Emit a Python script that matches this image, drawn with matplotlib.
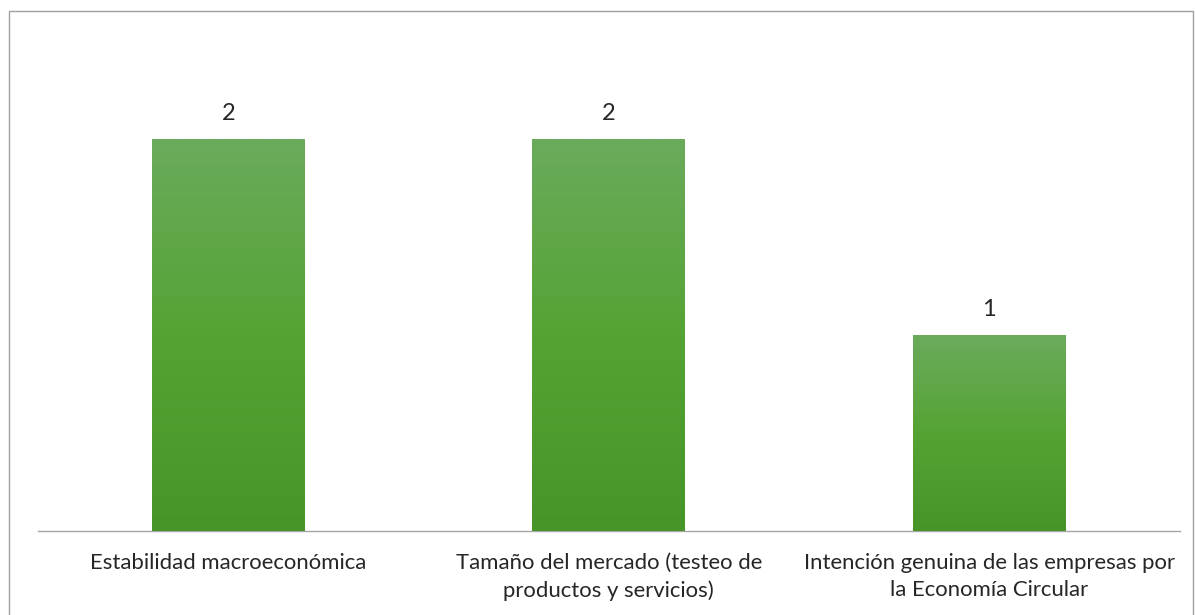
import matplotlib
matplotlib.use("Agg")
import matplotlib.pyplot as plt
import numpy as np
from matplotlib.patches import Rectangle
from matplotlib.colors import LinearSegmentedColormap

categories = ["Estabilidad macroeconómica",
              "Tamaño del mercado (testeo de\nproductos y servicios)",
              "Intención genuina de las empresas por\nla Economía Circular"]
values = [2, 2, 1]

plt.rcParams['font.family'] = ['Lato', 'DejaVu Sans']

W, H = 1195, 615
fig = plt.figure(figsize=(W / 100, H / 100), dpi=100)
ax = fig.add_axes([38 / W, 84 / H, (1179.5 - 38) / W, 490 / H])

x = np.arange(len(categories))
bars = ax.bar(x, values, width=0.402, color='#55a03a', zorder=2)

cmap = LinearSegmentedColormap.from_list('g', ['#479529', '#55a334', '#6aab5c'])
grad = np.linspace(0, 1, 256).reshape(-1, 1)
for b, v in zip(bars, values):
    bx, by = b.get_x(), b.get_y()
    bw, bh = b.get_width(), b.get_height()
    im = ax.imshow(grad, extent=[bx, bx + bw, by, by + bh], origin='lower',
                   cmap=cmap, aspect='auto', zorder=3)
    im.set_clip_path(b)
    ax.text(bx + bw / 2, bh + 0.097, f"{v}",
            ha='center', va='baseline', fontsize=17, color='#262626')

ax.set_xlim(-0.5, len(categories) - 0.5)
ax.set_ylim(0, 2.5)
ax.set_yticks([])
ax.set_xticks(x)
ax.set_xticklabels(categories, fontsize=15.9, color='#262626', linespacing=1.45)
ax.tick_params(axis='x', length=0, pad=16)
for s in ['top', 'right', 'left']:
    ax.spines[s].set_visible(False)
ax.spines['bottom'].set_color('#a6a6a6')
ax.spines['bottom'].set_linewidth(1.0)

border = Rectangle((9 / W, -0.02), (1193 - 9) / W, (H - 11) / H + 0.02,
                   transform=fig.transFigure, fill=False,
                   edgecolor='#a0a0a0', linewidth=1.0)
fig.patches.append(border)

fig.savefig('out.png', dpi=100)
